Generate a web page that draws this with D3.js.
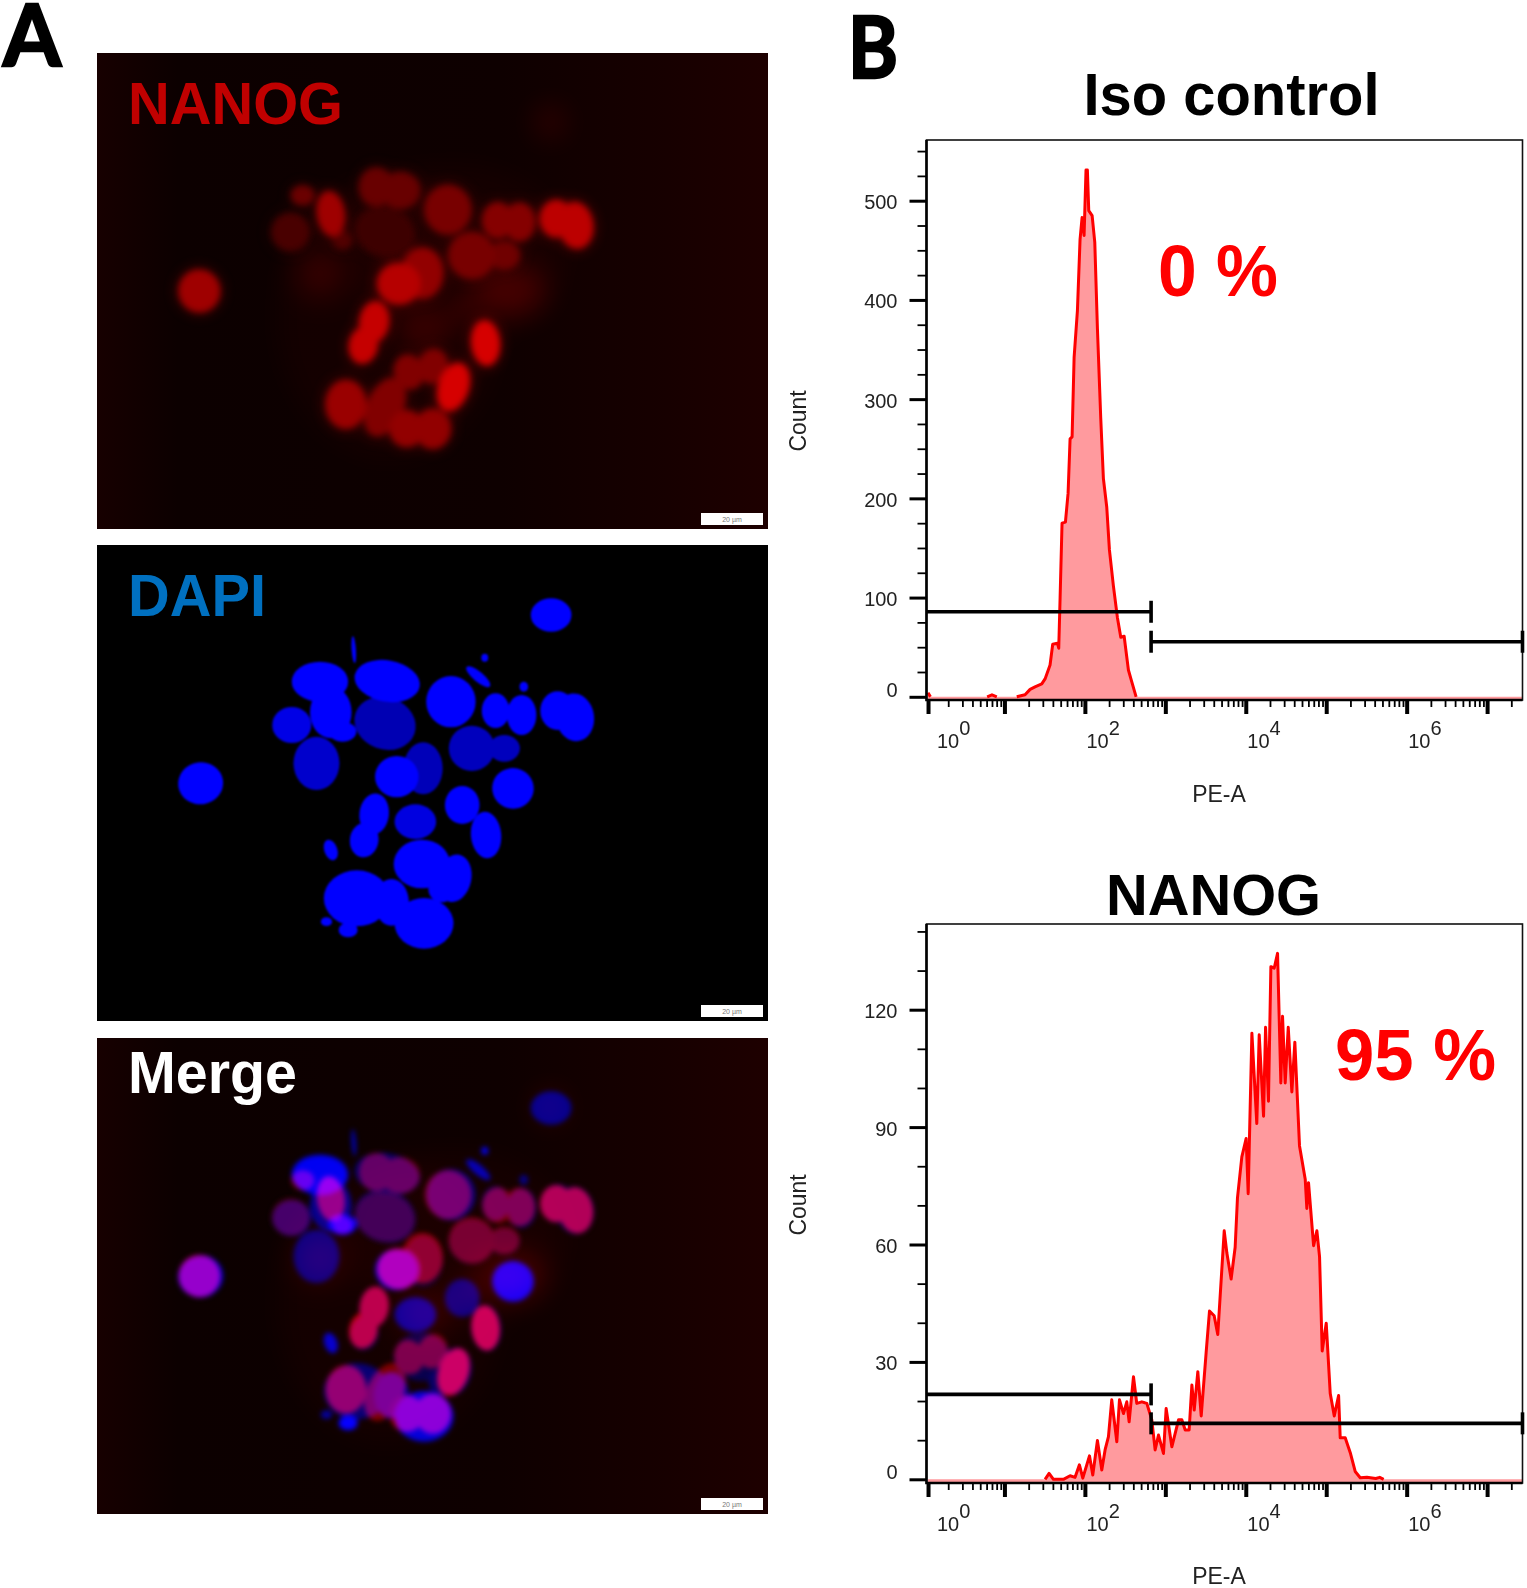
<!DOCTYPE html>
<html>
<head>
<meta charset="utf-8">
<style>
  html, body { margin: 0; background: #fff; }
  svg { display: block; }
</style>
<script src="https://cdnjs.cloudflare.com/ajax/libs/d3/7.8.5/d3.min.js"></script>
</head>
<body>
<svg id="fig" width="1527" height="1588"></svg>
<script>
// flow histograms, x is log10(PE-A)
const isoLogPE = [0.05, 0.08, 0.3, 0.6, 0.785, 0.845, 0.905, 1.0, 1.153, 1.256, 1.319, 1.38, 1.464, 1.505, 1.567, 1.6, 1.659, 1.675, 1.692, 1.716, 1.758, 1.791, 1.816, 1.841, 1.866, 1.907, 1.94, 1.965, 1.99, 2.014, 2.031, 2.048, 2.09, 2.123, 2.156, 2.197, 2.23, 2.272, 2.305, 2.354, 2.404, 2.446, 2.488, 2.541, 2.583, 2.637, 7.44];
const isoCount = [4, 0, 0, 0, 0, 2, 0, 0, 0, 2, 7.5, 10, 13, 18, 32, 53, 54, 49, 100, 175, 176, 205, 260, 262, 342, 389, 461, 483, 465, 531, 531, 490, 485, 458, 371, 281, 220, 191, 148, 112, 80, 60, 61, 27, 15, 0, 0];

const nanogLogPE = [0.05, 1.505, 1.555, 1.609, 1.733, 1.816, 1.878, 1.932, 1.974, 2.057, 2.098, 2.156, 2.21, 2.251, 2.293, 2.334, 2.397, 2.43, 2.48, 2.521, 2.55, 2.604, 2.645, 2.708, 2.77, 2.832, 2.873, 2.915, 2.977, 3.01, 3.081, 3.164, 3.205, 3.247, 3.296, 3.33, 3.359, 3.404, 3.446, 3.507, 3.549, 3.607, 3.652, 3.732, 3.765, 3.818, 3.868, 3.897, 3.951, 4.005, 4.03, 4.076, 4.137, 4.167, 4.221, 4.246, 4.282, 4.312, 4.353, 4.395, 4.436, 4.457, 4.49, 4.528, 4.573, 4.61, 4.668, 4.739, 4.759, 4.78, 4.843, 4.884, 4.917, 4.95, 5.0, 5.05, 5.1, 5.154, 5.174, 5.236, 5.299, 5.36, 5.423, 5.506, 5.615, 5.665, 5.714, 7.44];
const nanogCount = [0, 0, 1.5, 0, 0, 0.9, 0.5, 3.7, 0.3, 6, 1.1, 9.9, 2.4, 7.5, 10.9, 20.3, 9.6, 20.3, 16.8, 19.8, 14.7, 26.2, 19.4, 19.8, 19.4, 15.2, 7.5, 11.3, 6.6, 18.1, 8.3, 15.2, 15.2, 12.6, 12.6, 24.1, 17.7, 27.5, 16.2, 32.3, 43, 41.8, 37, 63.5, 57.8, 51.2, 59.3, 72, 82.4, 87.1, 73, 114, 90.9, 113.6, 92.8, 115.5, 96.6, 131, 130.6, 134.4, 101.3, 118.3, 101.3, 115.5, 99, 111.7, 85.2, 76.7, 69.2, 75.8, 59.7, 63.5, 56.9, 32.8, 39.9, 21.9, 16.2, 21.4, 10.6, 10.6, 6.8, 2, 0.4, 0.5, 0.2, 0.5, 0, 0];

const isoTicks = [0, 100, 200, 300, 400, 500];
const isoMinor = [25, 50, 75, 125, 150, 175, 225, 250, 275, 325, 350, 375, 425, 450, 475, 525, 550];
const nanogTicks = [0, 30, 60, 90, 120];
const nanogMinor = [10, 20, 40, 50, 70, 80, 100, 110, 130, 140];
const decades = [0.05, 1, 2, 3, 4, 5, 6, 7];
const minorDecades = [0, 1, 2, 3, 4, 5, 6, 7];
const labelledDecades = [0, 2, 4, 6];
const minorSteps = [2, 3, 4, 5, 6, 7, 8, 9];

// gates: [start, end, count] in log10(PE-A)
const isoGates = [[0.03, 2.823, 85.7], [2.823, 7.44, 55.5]];
const nanogGates = [[0.03, 2.823, 21.7], [2.823, 7.44, 14.3]];

// nuclei in the field of view: [x, y, rx, ry, rotation, level]
const nanogNuclei = [
  [252, 722, 48, 64, -8, 0.74], [490, 435, 27, 30, 0, 0.5], [555, 490, 32, 68, -8, 0.74], [582, 570, 22, 27, 0, 0.38],
  [462, 545, 44, 57, 0, 0.34], [660, 410, 40, 58, 0, 0.48], [715, 420, 46, 55, 0, 0.48], [680, 545, 70, 74, 15, 0.28],
  [825, 478, 54, 74, 0, 0.56], [940, 510, 36, 54, 0, 0.62], [990, 515, 36, 58, 0, 0.62], [1075, 505, 38, 56, 0, 0.88],
  [1120, 525, 40, 70, -8, 0.88], [880, 615, 54, 70, 0, 0.56], [955, 615, 36, 42, 0, 0.52], [766, 668, 48, 76, 0, 0.68],
  [712, 700, 50, 62, 0, 0.85], [655, 815, 34, 62, 8, 0.92], [630, 885, 33, 55, 10, 0.92], [735, 965, 34, 52, -15, 0.6],
  [790, 948, 34, 52, 15, 0.6], [912, 878, 33, 68, -5, 1], [838, 1010, 35, 74, 18, 1], [590, 1062, 47, 73, 0, 0.72],
  [680, 1070, 42, 92, 24, 0.6], [730, 1135, 40, 55, 0, 0.68], [790, 1135, 42, 60, 0, 0.68]
];
const nanogHaze = [
  [530, 670, 55, 75, 0, 0.14], [970, 720, 80, 80, 0, 0.2], [865, 775, 25, 35, 0, 0.2], [770, 840, 60, 70, 0, 0.14],
  [1060, 215, 35, 50, 0, 0.12], [690, 800, 260, 430, 0, 0.03], [840, 600, 260, 260, 0, 0.03]
];
// last column is the level of the same nucleus in the merged picture
const dapiNuclei = [
  [1063, 218, 47, 50, 0, 1, 0.55], [255, 723, 52, 63, -8, 1, 0.8], [530, 418, 65, 60, 0, 1, 0.95], [685, 416, 76, 62, 10, 1, 0.4],
  [555, 510, 48, 78, 0, 1, 0.55], [582, 568, 32, 30, 0, 1, 1], [465, 548, 45, 54, 0, 0.9, 0.42], [680, 543, 72, 78, 20, 0.7, 0.35],
  [832, 478, 57, 77, 0, 1, 0.45], [935, 505, 32, 52, 0, 1, 0.35], [995, 518, 34, 60, 0, 1, 0.35], [1078, 505, 40, 58, 0, 1, 0.35],
  [1118, 525, 44, 72, -8, 1, 0.35], [522, 663, 53, 80, 0, 0.8, 0.5], [880, 618, 53, 68, 0, 0.74, 0.2], [955, 618, 36, 40, 0, 0.74, 0.2],
  [768, 678, 45, 78, 0, 0.72, 0.2], [707, 703, 50, 62, 0, 1, 0.75], [975, 738, 48, 61, 15, 1, 0.95], [655, 815, 34, 62, 6, 1, 0.3],
  [632, 893, 33, 52, 8, 1, 0.3], [750, 838, 48, 52, 0, 0.88, 0.6], [858, 788, 40, 57, 0, 1, 0.5], [913, 878, 35, 70, -5, 1, 0.35],
  [765, 965, 65, 73, 0, 1, 0.3], [840, 1008, 39, 72, 12, 1, 0.4], [615, 1068, 76, 84, 0, 1, 0.45], [770, 1143, 68, 76, 0, 1, 0.85],
  [695, 1080, 40, 70, 0, 1, 0.6], [810, 1040, 30, 40, 0, 1, 0.4], [545, 1138, 13, 13, 0, 1, 0.6], [595, 1163, 22, 22, 0, 1, 1],
  [910, 346, 8, 12, 0, 1, 0.9], [895, 403, 35, 15, 40, 1, 0.7], [1000, 433, 10, 15, 0, 1, 0.5], [555, 923, 15, 32, -20, 1, 0.8],
  [608, 322, 5, 40, -4, 1, 0.7]
];

const svg = d3.select('#fig');
const defs = svg.append('defs');
const ARIAL = '"Liberation Sans", Arial, sans-serif';
const LATO = 'Lato, "Open Sans", sans-serif';

[['blurNanog', 3], ['blurGlow', 7], ['blurHaze', 14], ['blurDapi', 1.3], ['blurMerge', 2.4]].forEach(([id, dev]) => {
  defs.append('filter').attr('id', id)
    .attr('x', '-60%').attr('y', '-60%').attr('width', '220%').attr('height', '220%')
    .append('feGaussianBlur').attr('stdDeviation', dev);
});
const bg = defs.append('linearGradient').attr('id', 'redBg');
[[0, '#170000'], [0.12, '#0c0000'], [0.6, '#0e0000'], [0.85, '#170000'], [1, '#1e0000']].forEach(([o, c]) => {
  bg.append('stop').attr('offset', o).attr('stop-color', c);
});

const panelW = 671;
const panelH = 476;
const fieldX = d3.scaleLinear().domain([16, 1563]).range([0, panelW]);
const fieldY = d3.scaleLinear().domain([8, 1436]).range([0, panelH]);
const redLevel = d3.scaleLinear().domain([0, 1]).range(['#000000', '#ee0000']);
const blueLevel = d3.scaleLinear().domain([0, 1]).range(['#000000', '#0000ff']);

// brightest last, and opaque, so lobes of one nucleus join without a seam
function drawNuclei(g, rows, color, level, filter, grow = 1, opacity = 1) {
  const sorted = rows.slice().sort((a, b) => level(a) - level(b));
  g.append('g').attr('filter', `url(#${filter})`).attr('opacity', opacity)
    .selectAll('ellipse').data(sorted).join('ellipse')
    .attr('rx', d => (fieldX(d[2]) - fieldX(0)) * grow)
    .attr('ry', d => (fieldY(d[3]) - fieldY(0)) * grow)
    .attr('transform', d => `translate(${fieldX(d[0])},${fieldY(d[1])}) rotate(${d[4]})`)
    .attr('fill', d => color(level(d)));
}

function drawHaze(g) {
  g.append('g').attr('filter', 'url(#blurHaze)')
    .selectAll('ellipse').data(nanogHaze).join('ellipse')
    .attr('rx', d => fieldX(d[2]) - fieldX(0))
    .attr('ry', d => fieldY(d[3]) - fieldY(0))
    .attr('transform', d => `translate(${fieldX(d[0])},${fieldY(d[1])})`)
    .attr('fill', '#ff0000')
    .attr('fill-opacity', d => d[5]);
}

function drawPanel(top, background, label, labelColor, labelWidth, baseline, paint) {
  const clipId = `clip${top}`;
  defs.append('clipPath').attr('id', clipId).append('rect').attr('width', panelW).attr('height', panelH);
  const g = svg.append('g').attr('transform', `translate(97,${top})`).attr('clip-path', `url(#${clipId})`);
  g.append('rect').attr('width', panelW).attr('height', panelH).attr('fill', background);
  paint(g);
  g.append('rect').attr('x', 604).attr('y', 460).attr('width', 62).attr('height', 12).attr('fill', '#fff');
  g.append('text').attr('x', 635).attr('y', 469).attr('text-anchor', 'middle')
    .attr('font-family', ARIAL).attr('font-size', 7).attr('fill', '#777').text('20 µm');
  svg.append('text').attr('x', 128).attr('y', baseline)
    .attr('font-family', ARIAL).attr('font-weight', 700).attr('font-size', 59)
    .attr('textLength', labelWidth).attr('lengthAdjust', 'spacingAndGlyphs')
    .attr('fill', labelColor).text(label);
}

drawPanel(53, 'url(#redBg)', 'NANOG', '#c00000', 215, 124, g => {
  drawHaze(g);
  drawNuclei(g, nanogNuclei, redLevel, d => d[5], 'blurGlow', 1.12, 0.3);
  drawNuclei(g, nanogNuclei, redLevel, d => d[5] * 0.9, 'blurNanog');
});
drawPanel(545, '#000', 'DAPI', '#0070c0', 138, 616, g => {
  drawNuclei(g, dapiNuclei, blueLevel, d => d[5], 'blurDapi');
});
drawPanel(1038, 'url(#redBg)', 'Merge', '#fff', 169, 1093, g => {
  const stack = g.append('g').style('isolation', 'isolate');
  drawHaze(stack);
  drawNuclei(stack, nanogNuclei, redLevel, d => d[5] * 0.85, 'blurMerge');
  drawNuclei(stack, dapiNuclei, blueLevel, d => d[6], 'blurMerge');
  stack.selectAll('g').style('mix-blend-mode', 'screen');
});

function drawHistogram(o) {
  const right = 1522.5;
  const left = 926.5;
  const x = d3.scaleLog().domain([1, Math.pow(10, 7.44)]).range([924, right]);
  const y = d3.scaleLinear().domain(o.yDomain).range(o.yRange);
  const rows = o.logPE.map((e, i) => ({ pe: Math.pow(10, e), count: o.count[i] }));
  const isDrawn = (d, i) => d.count > 0 || (rows[i - 1] && rows[i - 1].count > 0) || (rows[i + 1] && rows[i + 1].count > 0);

  svg.append('path').datum(rows)
    .attr('d', d3.area().x(d => x(d.pe)).y0(o.bottom).y1(d => y(d.count)))
    .attr('fill', '#ff9a9e');
  svg.append('path').datum(rows)
    .attr('d', d3.line().defined(isDrawn).x(d => x(d.pe)).y(d => y(d.count)))
    .attr('fill', 'none').attr('stroke', '#ff0000').attr('stroke-width', 3).attr('stroke-linejoin', 'round');

  svg.append('rect').attr('x', left).attr('y', o.top)
    .attr('width', right - left).attr('height', o.bottom - o.top)
    .attr('fill', 'none').attr('stroke', '#111').attr('stroke-width', 1.6);
  svg.append('path').attr('d', `M${left},${o.top}V${o.bottom}H${right}`)
    .attr('fill', 'none').attr('stroke', '#000').attr('stroke-width', 2.6);

  // y axis, long ticks then short ones
  const yMajor = svg.append('g').attr('transform', `translate(${left},0)`)
    .call(d3.axisLeft(y).tickValues(o.yTicks).tickSize(17).tickPadding(12));
  yMajor.selectAll('line').attr('stroke', '#000').attr('stroke-width', 3);
  yMajor.selectAll('text').attr('font-family', ARIAL).attr('font-size', 20).attr('fill', '#222')
    .attr('dy', d => (d === 0 ? '-0.02em' : '0.4em'));
  const yMinor = svg.append('g').attr('transform', `translate(${left},0)`)
    .call(d3.axisLeft(y).tickValues(o.yMinor).tickSize(9).tickFormat(''));
  yMinor.selectAll('line').attr('stroke', '#000').attr('stroke-width', 1.8);
  svg.selectAll('.domain').remove();

  // x axis
  const xMajor = svg.append('g').attr('transform', `translate(0,${o.bottom})`)
    .call(d3.axisBottom(x).tickValues(decades.map(k => Math.pow(10, k))).tickSize(14).tickFormat(''));
  xMajor.selectAll('line').attr('stroke', '#000').attr('stroke-width', 4);
  const minorValues = minorDecades.flatMap(k => minorSteps.map(s => s * Math.pow(10, k))).filter(v => v < x.domain()[1]);
  const xMinor = svg.append('g').attr('transform', `translate(0,${o.bottom})`)
    .call(d3.axisBottom(x).tickValues(minorValues).tickSize(7).tickFormat(''));
  xMinor.selectAll('line').attr('stroke', '#000').attr('stroke-width', 1.8);
  svg.selectAll('.domain').remove();

  const lab = svg.append('g').attr('font-family', ARIAL).attr('font-size', 20).attr('fill', '#222')
    .selectAll('text').data(labelledDecades).join('text')
    .attr('x', k => x(Math.pow(10, k)) + (k === 0 ? 13 : 1.5))
    .attr('y', o.bottom + 48);
  lab.append('tspan').text('10');
  lab.append('tspan').attr('dy', -13).text(k => k);

  svg.append('text').attr('transform', `translate(806,${o.countY}) rotate(-90)`)
    .attr('text-anchor', 'middle').attr('font-family', ARIAL).attr('font-size', 24)
    .attr('textLength', 61).attr('lengthAdjust', 'spacingAndGlyphs').attr('fill', '#222').text('Count');
  svg.append('text').attr('x', 1219).attr('y', o.peY).attr('text-anchor', 'middle')
    .attr('font-family', ARIAL).attr('font-size', 23).attr('fill', '#222').text('PE-A');

  // gates
  o.gates.forEach(([a, b, c]) => {
    const g = svg.append('g').attr('stroke', '#000');
    g.append('line').attr('x1', x(Math.pow(10, a))).attr('x2', x(Math.pow(10, b)))
      .attr('y1', y(c)).attr('y2', y(c)).attr('stroke-width', 3.6);
    [a, b].filter(v => v > 0.5).forEach(v => {
      g.append('line').attr('x1', x(Math.pow(10, v))).attr('x2', x(Math.pow(10, v)))
        .attr('y1', y(c) - 11).attr('y2', y(c) + 11).attr('stroke-width', 3.6);
    });
  });
}

drawHistogram({
  logPE: isoLogPE, count: isoCount, yDomain: [0, 500], yRange: [696.8, 200.7], yTicks: isoTicks, yMinor: isoMinor,
  top: 140, bottom: 700, gates: isoGates, countY: 421, peY: 802
});
drawHistogram({
  logPE: nanogLogPE, count: nanogCount, yDomain: [0, 120], yRange: [1479.3, 1009.7], yTicks: nanogTicks, yMinor: nanogMinor,
  top: 924, bottom: 1483, gates: nanogGates, countY: 1205, peY: 1584
});

// letters and titles
const note = (t, xPos, yPos, size, family, color, width, thicken) => {
  const s = svg.append('text').attr('x', xPos).attr('y', yPos)
    .attr('font-family', family).attr('font-weight', 700).attr('font-size', size).attr('fill', color).text(t);
  if (width) s.attr('textLength', width).attr('lengthAdjust', 'spacingAndGlyphs');
  if (thicken) s.attr('stroke', color).attr('stroke-width', thicken);
};
note('A', 3, 66, 86, LATO, '#000', 58, 2.5);
note('B', 848, 78, 86, LATO, '#000', 50, 2.5);
note('Iso control', 1083.5, 115, 60, ARIAL, '#000', 296);
note('NANOG', 1106, 915, 58, ARIAL, '#000', 215);
note('0 %', 1158, 296, 72, ARIAL, '#ff0000', 120);
note('95 %', 1335, 1080, 72, ARIAL, '#ff0000', 161);
</script>
</body>
</html>
